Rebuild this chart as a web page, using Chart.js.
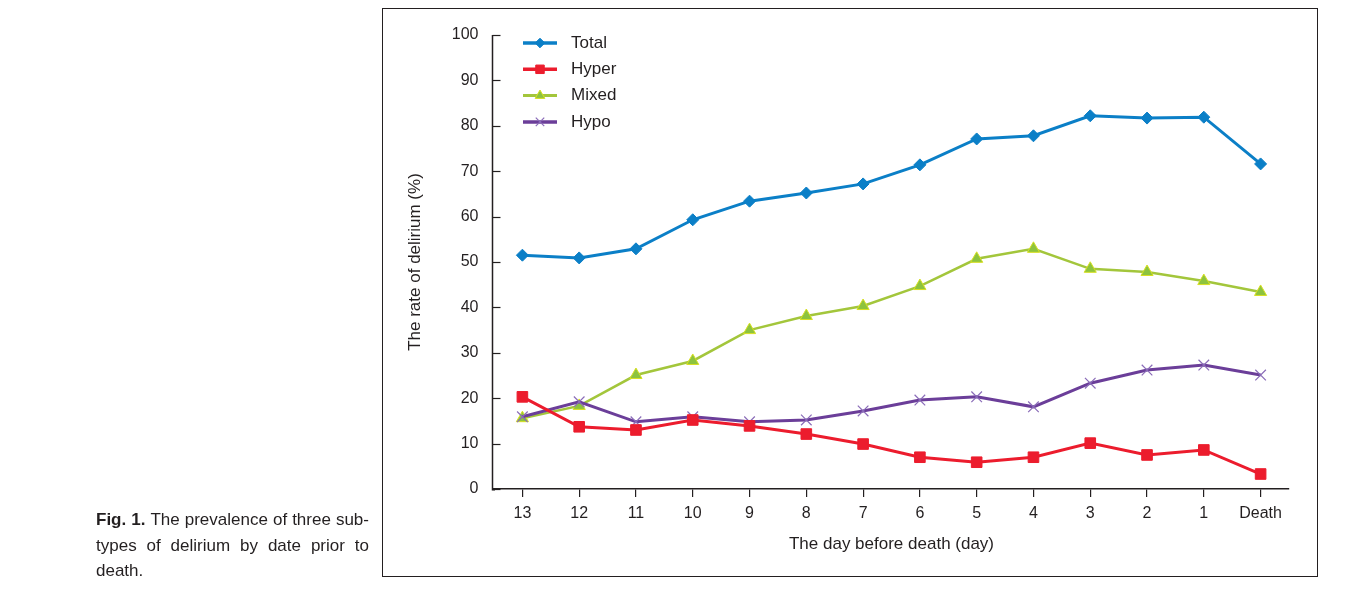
<!DOCTYPE html>
<html>
<head>
<meta charset="utf-8">
<script src="https://cdn.jsdelivr.net/npm/chart.js@4/dist/chart.umd.min.js"></script>
<style>
  html, body { margin: 0; padding: 0; background: #fff; }
  body { width: 1352px; height: 603px; position: relative; overflow: hidden; font-family: "Liberation Sans", Arial, sans-serif; color: #231f20; }
  #frame { position: absolute; left: 382px; top: 8px; width: 936px; height: 569px; box-sizing: border-box; border: 1.5px solid #231f20; }
  #wrap { position: absolute; left: 0; top: 0; width: 1352px; height: 603px; }
  #caption { position: absolute; left: 96px; top: 507px; width: 273px; font-size: 17px; line-height: 25.7px; color: #231f20; }
  #caption .j { white-space: nowrap; display: flex; justify-content: space-between; }
</style>
</head>
<body>
<div id="frame"></div>
<div id="wrap"><canvas id="c" width="1352" height="603"></canvas></div>
<div id="caption">
  <div class="j"><b>Fig.</b><b>1.</b><span>The</span><span>prevalence</span><span>of</span><span>three</span><span>sub-</span></div>
  <div class="j"><span>types</span><span>of</span><span>delirium</span><span>by</span><span>date</span><span>prior</span><span>to</span></div>
  <div>death.</div>
</div>
<script>
const categories = ["13", "12", "11", "10", "9", "8", "7", "6", "5", "4", "3", "2", "1", "Death"];
const seriesNames = ["Total", "Hyper", "Mixed", "Hypo"];
const totalValues = [51.5, 50.9, 52.9, 59.3, 63.4, 65.2, 67.2, 71.4, 77.1, 77.8, 82.2, 81.7, 81.9, 71.6];
const hyperValues = [20.3, 13.7, 13.0, 15.2, 13.9, 12.1, 9.9, 7.0, 5.9, 7.0, 10.1, 7.5, 8.6, 3.3];
const mixedValues = [15.6, 18.3, 25.1, 28.2, 35.0, 38.1, 40.3, 44.7, 50.7, 52.9, 48.5, 47.8, 45.8, 43.4];
const hypoValues = [15.9, 19.2, 14.8, 15.9, 14.8, 15.2, 17.2, 19.6, 20.3, 18.1, 23.3, 26.2, 27.3, 25.1];
const yTickValues = [0, 10, 20, 30, 40, 50, 60, 70, 80, 90, 100];
const xTitle = "The day before death (day)";
const yTitle = "The rate of delirium (%)";

const INK = "#231f20";
const FONT = "'Liberation Sans', Arial, sans-serif";
const AXIS_GAP = 2.5; // y axis line sits slightly left of the plot area

const datasets = [
  { label: seriesNames[0], data: totalValues, borderColor: "#0b7fc7", backgroundColor: "#0b7fc7",
    pointBackgroundColor: "#0b7fc7", pointBorderColor: "#0b7fc7", borderWidth: 3,
    pointStyle: "rectRot", pointRadius: 6, pointBorderWidth: 1, order: 1 },
  { label: seriesNames[1], data: hyperValues, borderColor: "#ec1c2d", backgroundColor: "#ec1c2d",
    pointBackgroundColor: "#ec1c2d", pointBorderColor: "#ec1c2d", borderWidth: 3,
    pointStyle: "rect", pointRadius: 7.5, pointBorderWidth: 1, order: 2 },
  { label: seriesNames[2], data: mixedValues, borderColor: "#a3c63b", backgroundColor: "#8dc33e",
    pointBackgroundColor: "#8dc33e", pointBorderColor: "#d8e021", borderWidth: 2.5,
    pointStyle: "triangle", pointRadius: 7, pointBorderWidth: 1, order: 4 },
  { label: seriesNames[3], data: hypoValues, borderColor: "#6b3e99", backgroundColor: "#8a6cb8",
    pointBackgroundColor: "#8a6cb8", pointBorderColor: "#8a6cb8", borderWidth: 3,
    pointStyle: "crossRot", pointRadius: 7.5, pointBorderWidth: 1.2, order: 3 }
];

const axesAndTicks = {
  id: "axesAndTicks",
  afterDraw(chart) {
    const ctx = chart.ctx, y = chart.scales.y, area = chart.chartArea;
    const ax = Math.round(area.left - AXIS_GAP) + 0.5;
    ctx.save();
    ctx.strokeStyle = INK;
    ctx.lineWidth = 1.5;
    ctx.beginPath();
    ctx.moveTo(ax, y.getPixelForValue(100));
    ctx.lineTo(ax, y.getPixelForValue(0) + 0.75);
    ctx.lineTo(area.left + 1, y.getPixelForValue(0) + 0.75);
    ctx.stroke();
    ctx.lineWidth = 1.2;
    yTickValues.forEach(v => {
      const py = Math.round(y.getPixelForValue(v)) + 0.5;
      ctx.beginPath(); ctx.moveTo(ax, py); ctx.lineTo(ax + 8, py); ctx.stroke();
    });
    ctx.restore();
  }
};

const insideLegend = {
  id: "insideLegend",
  afterDraw(chart) {
    const ctx = chart.ctx;
    const x0 = chart.chartArea.left + 29, x1 = x0 + 34, xm = (x0 + x1) / 2, xt = x0 + 48;
    let yy = chart.chartArea.top + 8;
    ctx.save();
    chart.data.datasets.forEach(ds => {
      ctx.strokeStyle = ds.borderColor; ctx.lineWidth = ds.borderWidth + 0.5;
      ctx.beginPath(); ctx.moveTo(x0, yy); ctx.lineTo(x1, yy); ctx.stroke();
      ctx.fillStyle = ds.pointBackgroundColor; ctx.strokeStyle = ds.pointBorderColor;
      ctx.lineWidth = ds.pointBorderWidth;
      Chart.helpers.drawPoint(ctx, { pointStyle: ds.pointStyle, radius: ds.pointRadius * 0.8, rotation: 0, borderWidth: ds.pointBorderWidth }, xm, yy);
      ctx.fillStyle = INK; ctx.font = "17px " + FONT; ctx.textBaseline = "middle"; ctx.textAlign = "left";
      ctx.fillText(ds.label, xt, yy);
      yy += 26.3;
    });
    ctx.restore();
  }
};

new Chart(document.getElementById("c"), {
  type: "line",
  data: { labels: categories, datasets: datasets },
  plugins: [axesAndTicks, insideLegend],
  options: {
    responsive: false,
    animation: false,
    events: [],
    layout: { padding: { left: 383, top: 35, right: 63, bottom: 26 } },
    plugins: { legend: { display: false }, tooltip: { enabled: false } },
    elements: { line: { tension: 0 } },
    scales: {
      x: {
        type: "category",
        offset: true,
        grid: { display: true, drawOnChartArea: false, drawTicks: true, tickLength: 8, offset: false, color: INK, lineWidth: 1.2 },
        border: { display: true, color: INK, width: 1.5 },
        ticks: { color: INK, font: { family: FONT, size: 16 }, padding: 7, maxRotation: 0, autoSkip: false },
        title: { display: true, text: xTitle, color: INK, font: { family: FONT, size: 17 }, padding: { top: 0, bottom: 22 } },
        afterFit(s) { s.height = 88; }
      },
      y: {
        min: 0, max: 100,
        afterBuildTicks(s) { s.ticks = yTickValues.map(v => ({ value: v })); },
        grid: { display: false, drawTicks: false },
        border: { display: false },
        ticks: { color: INK, font: { family: FONT, size: 16 }, padding: 15.5 },
        title: { display: true, text: yTitle, color: INK, font: { family: FONT, size: 17 }, padding: { top: 22, bottom: 0 } },
        afterFit(s) { s.width = 111; }
      }
    }
  }
});
</script>
</body>
</html>
